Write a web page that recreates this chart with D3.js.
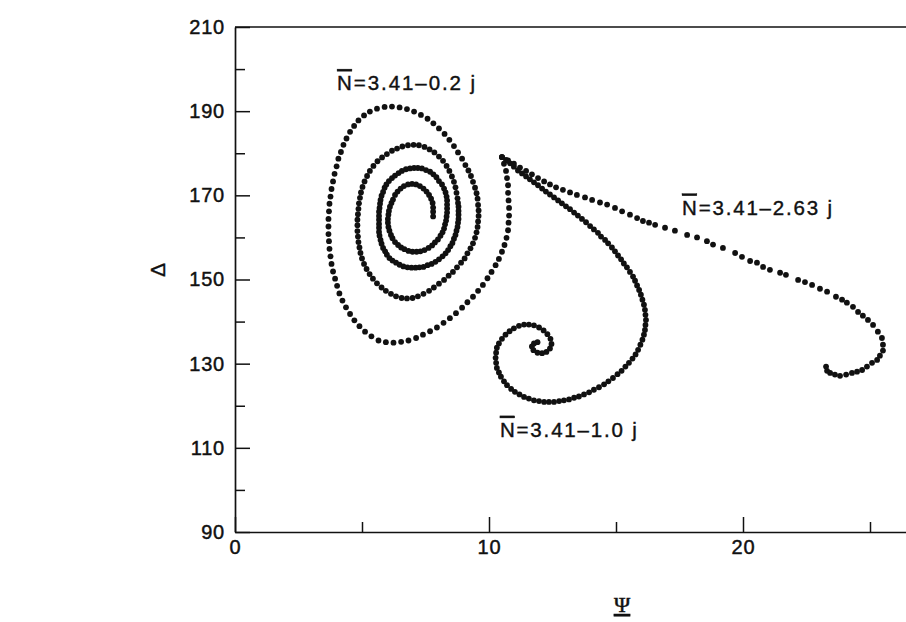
<!DOCTYPE html>
<html><head><meta charset="utf-8">
<script src="https://cdn.jsdelivr.net/npm/d3@7"></script>
<style>html,body{margin:0;padding:0;background:#fff;} svg{display:block;}</style>
</head><body><svg id="c" width="906" height="622"></svg>
<script>
// ---- tick values ----
const yMajorTicks = [90, 110, 130, 150, 170, 190, 210];
const yMinorTicks = [100, 120, 140, 160, 180, 200];
const xMajorTicks = [0, 10, 20];
const xMinorTicks = [5, 15, 25];

// ---- series labels ----
const seriesLabels = ["=3.41\u20130.2 j", "=3.41\u20131.0 j", "=3.41\u20132.63 j"];

// ---- trajectory N = 3.41 - 0.2 j  ([Psi, Delta]) ----
const seriesA = [
[10.51,179.1],[10.59,177.5],[10.67,175.8],[10.71,174.1],[10.75,172.4],[10.75,170.6],[10.77,168.8],[10.79,167.0],[10.79,165.2],[10.77,163.5],[10.75,161.7],[10.69,159.9],[10.61,158.2],[10.51,156.6],[10.39,154.9],[10.26,153.4],[10.10,151.8],[9.94,150.3],[9.76,148.7],[9.57,147.3],[9.37,145.9],[9.15,144.6],[8.94,143.3],[8.70,142.0],[8.46,140.8],[8.21,139.7],[7.95,138.6],[7.68,137.7],[7.40,136.9],[7.13,136.1],[6.83,135.5],[6.54,135.2],[6.24,135.0],[5.94,135.1],[5.65,135.5],[5.37,136.5],[5.12,137.6],[4.90,138.9],[4.70,140.3],[4.53,141.8],[4.37,143.4],[4.23,145.0],[4.11,146.7],[4.02,148.5],[3.94,150.2],[3.86,151.9],[3.80,153.7],[3.76,155.5],[3.72,157.3],[3.70,159.1],[3.68,160.8],[3.68,162.6],[3.68,164.4],[3.70,166.2],[3.72,168.0],[3.76,169.7],[3.80,171.5],[3.86,173.3],[3.92,175.1],[4.00,176.9],[4.07,178.7],[4.17,180.3],[4.27,182.0],[4.39,183.5],[4.53,185.1],[4.69,186.5],[4.86,187.8],[5.08,189.0],[5.31,189.9],[5.59,190.6],[5.89,191.0],[6.18,191.1],[6.48,190.9],[6.77,190.5],[7.05,189.9],[7.32,189.1],[7.58,188.2],[7.81,187.1],[8.03,185.9],[8.25,184.6],[8.44,183.2],[8.62,181.7],[8.78,180.2],[8.94,178.7],
[9.07,177.2],[9.19,175.9],[9.29,174.6],[9.37,173.2],[9.45,171.8],[9.51,170.5],[9.55,169.2],[9.57,167.7],[9.59,166.4],[9.59,165.1],[9.57,163.8],[9.55,162.5],[9.51,161.2],[9.45,159.9],[9.37,158.6],[9.27,157.4],[9.15,156.2],[9.04,155.0],[8.90,154.0],[8.74,152.9],[8.58,151.8],[8.41,150.9],[8.23,149.9],[8.03,149.0],[7.83,148.1],[7.64,147.3],[7.42,146.6],[7.20,146.0],[6.99,145.6],[6.77,145.5],[6.56,145.6],[6.34,146.0],[6.14,146.6],[5.94,147.3],[5.77,148.1],[5.59,149.1],[5.43,150.2],[5.30,151.3],[5.18,152.5],[5.08,153.7],[5.00,155.0],[4.94,156.3],[4.90,157.6],[4.86,158.9],[4.84,160.2],[4.82,161.5],[4.82,162.9],[4.82,164.2],[4.84,165.5],[4.86,166.8],[4.88,168.1],[4.92,169.4],[4.96,170.7],[5.02,172.0],[5.10,173.3],[5.20,174.6],[5.31,175.8],[5.45,177.0],[5.61,178.1],[5.79,179.0],[5.98,179.8],[6.18,180.6],[6.38,181.1],[6.59,181.6],[6.81,181.9],[7.03,182.0],[7.24,181.9],[7.46,181.5],[7.66,180.9],[7.85,180.2],[8.03,179.2],[8.19,178.2],[8.33,177.0],[8.44,175.8],[8.54,174.5],[8.62,173.2],[8.68,171.9],[8.72,170.6],[8.76,169.3],
[8.78,168.2],[8.80,167.3],[8.80,166.3],[8.80,165.4],[8.80,164.4],[8.78,163.5],[8.76,162.5],[8.72,161.6],[8.68,160.6],[8.62,159.7],[8.56,158.7],[8.48,157.9],[8.39,157.0],[8.29,156.2],[8.17,155.5],[8.03,154.8],[7.89,154.2],[7.74,153.7],[7.58,153.4],[7.42,153.0],[7.26,152.9],[7.11,152.8],[6.95,152.8],[6.79,152.9],[6.63,153.1],[6.48,153.5],[6.34,154.0],[6.20,154.5],[6.08,155.1],[5.98,155.9],[5.91,156.7],[5.83,157.5],[5.77,158.5],[5.73,159.4],[5.69,160.4],[5.67,161.3],[5.67,162.3],[5.67,163.2],[5.67,164.2],[5.67,165.1],[5.67,166.1],[5.69,167.0],[5.71,168.0],[5.73,168.9],[5.77,169.9],[5.83,170.8],[5.89,171.8],[5.96,172.6],[6.06,173.4],[6.18,174.1],[6.30,174.7],[6.44,175.3],[6.57,175.8],[6.73,176.2],[6.89,176.4],[7.05,176.5],[7.20,176.5],[7.36,176.4],[7.52,176.0],[7.68,175.6],[7.81,175.0],[7.93,174.3],[8.03,173.4],[8.15,172.6],[8.23,171.6],[8.29,170.7],[8.33,169.7],[8.35,168.8],[8.35,167.8],
[8.35,166.9],[8.35,165.9],[8.33,165.0],[8.31,164.0],[8.27,163.1],[8.23,162.1],[8.17,161.2],[8.09,160.4],[7.99,159.5],[7.87,158.8],[7.76,158.1],[7.62,157.5],[7.46,157.0],[7.30,156.7],[7.15,156.6],[6.99,156.6],[6.83,156.8],[6.67,157.2],[6.54,157.6],[6.42,158.2],[6.30,158.9],[6.20,159.8],[6.14,160.6],[6.08,161.6],[6.04,162.5],[6.02,163.5],[6.02,164.4],[6.04,165.4],[6.06,166.3],[6.10,167.3],[6.16,168.2],[6.22,169.0],[6.30,170.1],[6.40,170.9],[6.52,171.6],[6.65,172.2],[6.81,172.6],[6.97,172.7],[7.13,172.6],[7.28,172.2],[7.42,171.6],[7.54,170.9],[7.64,170.1],[7.72,169.2],[7.78,168.2],[7.80,167.1],[7.80,166.1],[7.80,165.0]
];

// ---- trajectory N = 3.41 - 1.0 j ----
const seriesB = [
[10.51,179.1],[10.67,178.4],[10.83,177.6],[10.98,176.8],[11.14,175.9],[11.30,175.2],[11.46,174.5],[11.61,173.8],[11.77,173.1],[11.93,172.4],[12.09,171.6],[12.24,170.9],[12.40,170.2],[12.56,169.5],[12.72,168.8],[12.87,168.1],[13.03,167.4],[13.19,166.7],[13.35,165.9],[13.50,165.2],[13.66,164.4],[13.82,163.6],[13.98,162.7],[14.13,161.9],[14.29,161.1],[14.41,160.2],[14.57,159.4],[14.69,158.6],[14.84,157.6],[14.96,156.7],[15.08,155.7],[15.20,154.8],[15.31,153.8],[15.43,152.9],[15.55,151.8],[15.67,150.7],[15.75,149.7],[15.83,148.6],[15.91,147.5],[15.98,146.4],[16.04,145.2],[16.10,144.0],[16.14,142.8],[16.16,141.6],[16.18,140.4],[16.16,139.2],[16.14,138.0],[16.10,136.9],[16.04,135.7],[15.96,134.5],[15.87,133.3],[15.77,132.2],[15.65,131.2],[15.51,130.2],[15.37,129.3],[15.22,128.3],[15.06,127.5],[14.88,126.6],[14.70,125.8],[14.53,125.1],[14.33,124.4],[14.13,123.8],[13.94,123.2],[13.74,122.7],[13.54,122.2],[13.35,121.9],[13.15,121.5],[12.95,121.3],[12.76,121.1],[12.56,120.9],[12.36,120.9],[12.17,120.9],[11.97,121.1],[11.77,121.3],[11.57,121.7],[11.38,122.1],[11.20,122.7],[11.02,123.3],[10.87,124.0],[10.71,124.9],[10.59,125.8],[10.47,126.9],[10.39,127.9],[10.31,129.0],[10.28,130.2],[10.26,131.4],[10.28,132.6],[10.31,133.8],[10.39,134.8],[10.51,135.9],[10.65,136.9],[10.81,137.7],[10.98,138.4],[11.18,139.0],[11.38,139.3],[11.57,139.3],[11.77,139.1],[11.97,138.6],[12.15,137.9],[12.30,137.0],[12.42,135.9],[12.46,134.7],[12.40,133.6],[12.26,132.8],[12.09,132.5],[11.91,132.6],[11.75,133.2],[11.69,134.1],[11.77,134.8],[11.91,135.1]
];

// ---- trajectory N = 3.41 - 2.63 j ----
const seriesC = [
[10.51,179.1],[10.75,178.3],[10.98,177.5],[11.22,176.6],[11.46,175.8],[11.69,175.0],[11.93,174.1],[12.17,173.3],[12.40,172.6],[12.64,171.9],[12.91,171.3],[13.19,170.7],[13.46,170.1],[13.78,169.5],[14.06,168.9],[14.37,168.3],[14.65,167.8],[14.96,167.0],[15.24,166.2],[15.55,165.4],[15.83,164.6],[16.06,163.9],[16.30,163.5],[16.54,163.0],[16.93,162.3],[17.32,161.6],[17.80,160.6],[18.19,160.0],[18.58,159.1],[18.82,158.3],[19.21,157.5],[19.69,156.3],[19.96,155.4],[20.28,154.4],[20.55,154.0],[20.79,153.0],[21.06,152.3],[21.46,151.6],[21.69,151.1],[22.17,149.9],[22.44,149.4],[22.72,148.7],[23.03,147.8],[23.31,147.1],[23.66,145.9],[23.90,145.2],[24.09,144.5],[24.33,143.5],[24.53,142.3],[24.72,141.4],[24.92,140.4],[25.12,139.2],[25.31,137.6],[25.47,136.1],[25.51,134.5],[25.51,133.1],[25.39,131.9],[25.28,130.9],[25.08,130.2],[24.88,129.3],[24.69,128.5],[24.49,128.1],[24.29,127.8],[24.06,127.4],[23.82,127.1],[23.62,127.4],[23.43,127.8],[23.31,128.3],[23.27,129.3]
];

const ink = "#111";
const svg = d3.select("#c");
const x = d3.scaleLinear().domain([0, 30]).range([235, 235 + 30 * 25.4]);
const y = d3.scaleLinear().domain([90, 210]).range([532, 27]);
const font = "'Liberation Sans', Arial, Helvetica, sans-serif";

// top frame line
svg.append("line")
  .attr("x1", x(0)).attr("x2", x(30))
  .attr("y1", y(210)).attr("y2", y(210))
  .attr("stroke", ink).attr("stroke-width", 1.7);

function styleAxis(g) {
  g.selectAll("path").attr("stroke", ink).attr("stroke-width", 1.7);
  g.selectAll("line").attr("stroke", ink).attr("stroke-width", 1.5);
  g.selectAll("text").attr("fill", ink).attr("stroke", ink).attr("stroke-width", 0.45)
    .style("font-family", font).style("font-size", "20px").attr("letter-spacing", "0.8px");
}

// y axis: major (labelled) and minor ticks pointing inward
const gy = svg.append("g").attr("transform", `translate(${x(0)},0)`)
  .call(d3.axisLeft(y).tickValues(yMajorTicks).tickSizeInner(-15).tickSizeOuter(0).tickPadding(10).tickFormat(d3.format("d")));
styleAxis(gy);
const gy2 = svg.append("g").attr("transform", `translate(${x(0)},0)`)
  .call(d3.axisLeft(y).tickValues(yMinorTicks).tickSizeInner(-10).tickSizeOuter(0).tickFormat(""));
styleAxis(gy2);
gy2.select("path").remove();

// x axis
const gx = svg.append("g").attr("transform", `translate(0,${y(90)})`)
  .call(d3.axisBottom(x).tickValues(xMajorTicks).tickSizeInner(-15).tickSizeOuter(0).tickPadding(8).tickFormat(d3.format("d")));
styleAxis(gx);
const gx2 = svg.append("g").attr("transform", `translate(0,${y(90)})`)
  .call(d3.axisBottom(x).tickValues(xMinorTicks).tickSizeInner(-10).tickSizeOuter(0).tickFormat(""));
styleAxis(gx2);
gx2.select("path").remove();

// dots
const series = [seriesA, seriesB, seriesC];
series.forEach(s => {
  svg.append("g").selectAll("circle").data(s).join("circle")
    .attr("cx", d => x(d[0])).attr("cy", d => y(d[1]))
    .attr("r", 2.9).attr("fill", ink);
});

// annotations (anchored in data coordinates)
const labelAnchors = [[4.02, 195.0, 138], [10.43, 112.6, 137], [17.6, 165.4, 150]];
seriesLabels.forEach((t, i) => {
  const a = labelAnchors[i];
  const tx = svg.append("text").attr("x", x(a[0])).attr("y", y(a[1]))
    .attr("fill", ink).attr("stroke", ink).attr("stroke-width", 0.4)
    .style("font-family", font).style("font-size", "20.5px")
    .attr("textLength", a[2]).attr("lengthAdjust", "spacing");
  tx.append("tspan").attr("text-decoration", "overline").style("text-decoration", "overline").text("N");
  tx.append("tspan").text(t);
});

// axis titles
svg.append("text").attr("transform", "translate(157,270) rotate(-90)")
  .attr("text-anchor", "middle").attr("dominant-baseline", "central")
  .attr("fill", ink).attr("stroke", ink).attr("stroke-width", 0.4)
  .style("font-family", font).style("font-size", "21px").text("\u0394");
svg.append("text").attr("x", 622).attr("y", 612).attr("text-anchor", "middle")
  .attr("fill", ink).attr("stroke", ink).attr("stroke-width", 0.5)
  .style("font-family", "'Liberation Serif', 'DejaVu Serif', serif").style("font-size", "22px")
  .style("text-decoration", "underline").text("\u03A8");
</script></body></html>
